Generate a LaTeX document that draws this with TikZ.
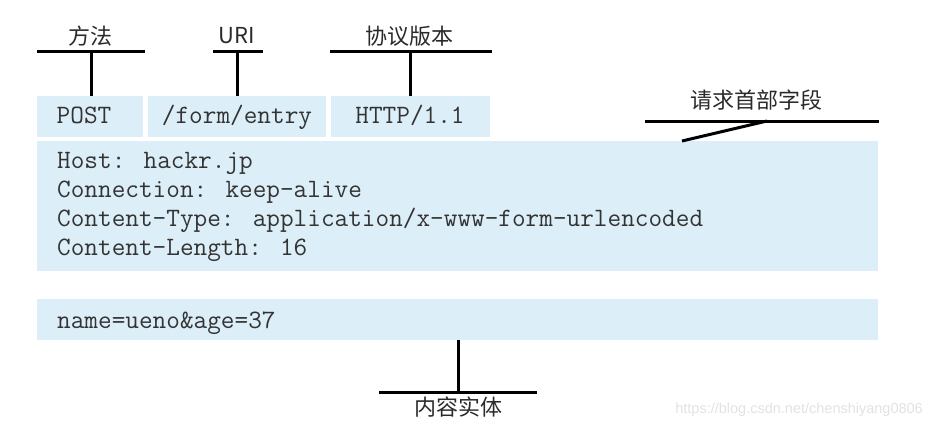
\documentclass[tikz,border=0pt]{standalone}
\usepackage{fontspec}
\setmainfont{Liberation Sans}
\newfontfamily\cjk{Noto Sans CJK SC}
\definecolor{boxblue}{HTML}{DCEEF7}
\definecolor{codegray}{HTML}{333333}
\definecolor{lblgray}{HTML}{2A2A2A}
\definecolor{wm}{HTML}{E2E2E2}
\begin{document}
\begin{tikzpicture}[x=1pt,y=-1pt,
  box/.style={fill=boxblue,draw=none,inner sep=0pt,outer sep=0pt,anchor=north west},
  code/.style={font=\ttfamily\fontsize{26.5}{29}\selectfont,text=codegray,inner sep=0pt},
  lbl/.style={font=\cjk\fontsize{22}{26}\selectfont,text=lblgray,inner sep=0pt},
  tline/.style={line width=3pt,black}]
\useasboundingbox (0,0) rectangle (933,428);
% boxes
\node[box,minimum width=106,minimum height=41] (post) at (37,96) {};
\node[box,minimum width=178,minimum height=41] (uri) at (148,96) {};
\node[box,minimum width=159,minimum height=41] (ver) at (331,96) {};
\node[box,minimum width=841,minimum height=130] (hdr) at (37,141) {};
\node[box,minimum width=841,minimum height=41] (body) at (37,299) {};
% box texts
\node[code,anchor=base] (tpost) at (84,123) {POST};
\node[code,anchor=base] (turi) at (237,123) {/form/entry};
\node[code,anchor=base] (tver) at (410,123) {HTTP/1.1};
\node[code,anchor=base west] (h1) at (57,168) {Host: hackr.jp};
\node[code,anchor=base west] (h2) at (57,197) {Connection: keep-alive};
\node[code,anchor=base west] (h3) at (57,226) {Content-Type: application/x-www-form-urlencoded};
\node[code,anchor=base west] (h4) at (57,255) {Content-Length: 16};
\node[code,anchor=base west] (b1) at (57,328) {name=ueno\&age=37};
% labels
\node[lbl] (lm) at (90,36) {方法};
\node[lbl] (lu) at (237,36) {URI};
\node[lbl] (lv) at (409,36) {协议版本};
\node[lbl] (lh) at (756,100.5) {请求首部字段};
\node[lbl] (lb) at (458,407) {内容实体};
% connector coordinates
\coordinate (m1) at (37,52);  \coordinate (m2) at (145,52); \coordinate (mv) at (91,52);
\coordinate (u1) at (213,52); \coordinate (u2) at (263,52); \coordinate (uv) at (237,52);
\coordinate (v1) at (330,52); \coordinate (v2) at (492,52); \coordinate (vv) at (410,52);
\coordinate (h1l) at (645,121); \coordinate (h1r) at (879,121); \coordinate (hk) at (767,121);
\coordinate (hb) at (682,141);
\coordinate (c1) at (379,392); \coordinate (c2) at (537,392); \coordinate (cv) at (458,392);
\coordinate (ct) at (458,340);
% connectors
\draw[tline] (m1) -- (m2);
\draw[tline] (mv) -- (mv |- post.north);
\draw[tline] (u1) -- (u2);
\draw[tline] (uv) -- (uv |- uri.north);
\draw[tline] (v1) -- (v2);
\draw[tline] (vv) -- (vv |- ver.north);
\draw[tline] (h1l) -- (h1r);
\draw[tline] (hk) -- (hb);
\draw[tline] (c1) -- (c2);
\draw[tline] (cv) -- (ct);
% watermark
\node[font=\fontsize{14.5}{16}\selectfont,text=wm,anchor=east,inner sep=0pt] (wmk) at (923,410) {https://blog.csdn.net/chenshiyang0806};
\end{tikzpicture}
\end{document}
